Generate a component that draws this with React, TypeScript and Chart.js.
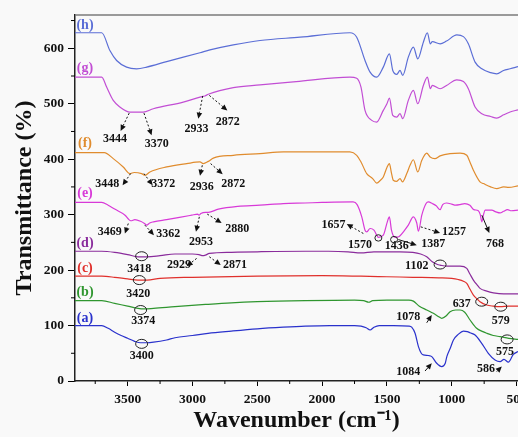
import React, { useEffect, useRef } from 'react';
import { Chart, registerables } from 'chart.js';

Chart.register(...registerables);

// ---- axis ticks ----
const xTicks = [3500, 3000, 2500, 2000, 1500, 1000, 500];
const xMinorTicks = [3750, 3250, 2750, 2250, 1750, 1250, 750];
const yTicks = [0, 100, 200, 300, 400, 500, 600];
const yMinorTicks = [50, 150, 250, 350, 450, 550, 650];

// ---- series: [wavenumber, transmittance] ----
const seriesA: [number, number][] = [
  [3906, 100], [3700, 100], [3650, 95], [3600, 88], [3550, 82], [3500, 77], [3450, 72], [3400, 69], [3350, 69],
  [3300, 70], [3200, 74], [3135, 78], [3000, 82], [2880, 86], [2700, 90], [2500, 94], [2300, 97], [2130, 99],
  [1940, 100], [1750, 100], [1700, 99], [1660, 96], [1630, 92], [1600, 97], [1560, 100], [1450, 100], [1330, 99],
  [1309, 97], [1283, 86], [1257, 62], [1235, 50], [1219, 47], [1180, 46], [1154, 44], [1116, 32], [1077, 26],
  [1050, 32], [1038, 44], [1010, 60], [987, 74], [950, 84], [910, 90], [880, 89], [859, 87], [820, 83], [769, 68],
  [718, 50], [666, 38], [627, 35], [597, 39], [563, 34], [525, 48], [489, 53],
];
const seriesB: [number, number][] = [
  [3906, 145], [3700, 145], [3600, 140], [3500, 135], [3420, 131], [3374, 130], [3300, 131], [3135, 134],
  [2900, 138], [2700, 141], [2500, 143], [2130, 145], [1750, 146], [1680, 145], [1640, 142], [1610, 145],
  [1500, 146], [1330, 146], [1296, 144], [1250, 135], [1193, 128], [1142, 122], [1100, 116], [1077, 113],
  [1040, 118], [1013, 125], [970, 128], [936, 128], [900, 124], [859, 110], [808, 95], [760, 89], [730, 86],
  [680, 82], [627, 80], [560, 77], [489, 75],
];
const seriesC: [number, number][] = [
  [3906, 189], [3700, 189], [3600, 187], [3500, 184], [3420, 182], [3350, 182], [3250, 185], [3000, 187],
  [2500, 189], [2000, 190], [1700, 189], [1500, 188], [1300, 187], [1100, 186], [1000, 185], [950, 183],
  [910, 180], [884, 176], [860, 166], [833, 155], [800, 147], [782, 143], [730, 137], [680, 135], [627, 134],
  [560, 135], [489, 135],
];
const seriesD: [number, number][] = [
  [3906, 234], [3700, 234], [3600, 232], [3500, 228], [3420, 224], [3350, 224], [3250, 226], [3135, 229],
  [3000, 229], [2950, 228], [2920, 226], [2900, 227], [2870, 230], [2700, 232], [2500, 233], [2130, 234],
  [1950, 234], [1800, 233], [1700, 231], [1600, 233], [1400, 233], [1300, 232], [1240, 229], [1193, 224],
  [1150, 215], [1110, 210], [1090, 209], [1038, 207], [936, 207], [884, 203], [860, 193], [833, 182], [800, 172],
  [782, 167], [730, 162], [679, 159], [600, 157], [489, 157],
];
const seriesE: [number, number][] = [
  [3906, 322], [3700, 322], [3650, 317], [3600, 310], [3520, 299], [3490, 291], [3475, 289], [3444, 291],
  [3400, 288], [3370, 284], [3353, 281], [3330, 285], [3300, 287], [3200, 291], [3100, 295], [3006, 299],
  [2960, 301], [2950, 299], [2935, 302], [2900, 304], [2878, 304], [2800, 310], [2650, 315], [2479, 317],
  [2300, 320], [2132, 321], [2000, 322], [1761, 323], [1730, 318], [1694, 296], [1669, 272], [1655, 269],
  [1630, 275], [1600, 272], [1566, 259], [1528, 263], [1497, 287], [1481, 296], [1465, 272], [1437, 259],
  [1410, 260], [1399, 262], [1370, 270], [1335, 281], [1296, 296], [1270, 285], [1257, 270], [1231, 299],
  [1198, 320], [1180, 323], [1150, 320], [1120, 316], [1090, 309], [1070, 318], [1040, 321], [1000, 319],
  [970, 317], [936, 318], [900, 320], [860, 317], [830, 309], [795, 307], [780, 300], [768, 287], [755, 300],
  [743, 308], [691, 308], [660, 305], [627, 303], [600, 306], [570, 309], [540, 307], [489, 308],
];
const seriesF: [number, number][] = [
  [3906, 412], [3680, 412], [3611, 401], [3534, 386], [3482, 374], [3450, 376], [3392, 374], [3366, 371],
  [3328, 377], [3199, 386], [3045, 392], [2942, 395], [2917, 392], [2878, 396], [2839, 402], [2685, 407],
  [2479, 410], [2299, 413], [1785, 413], [1733, 407], [1700, 395], [1656, 374], [1610, 365], [1579, 357],
  [1550, 362], [1528, 368], [1500, 385], [1481, 392], [1465, 375], [1451, 362], [1424, 360], [1399, 365],
  [1380, 359], [1347, 374], [1320, 390], [1296, 399], [1262, 377], [1231, 398], [1193, 411], [1167, 404],
  [1130, 401], [1090, 406], [1013, 410], [936, 411], [884, 407], [860, 395], [833, 380], [782, 359],
  [756, 356], [700, 350], [653, 347], [600, 350], [560, 349], [489, 352],
];
const seriesG: [number, number][] = [
  [3906, 548], [3700, 548], [3662, 530], [3611, 506], [3559, 494], [3482, 485], [3380, 485], [3302, 491],
  [3071, 503], [2942, 512], [2904, 514], [2878, 517], [2685, 529], [2479, 534], [2200, 540], [1785, 548],
  [1733, 546], [1700, 530], [1669, 488], [1617, 470], [1579, 467], [1528, 488], [1500, 500], [1481, 510],
  [1455, 479], [1424, 476], [1399, 482], [1378, 473], [1335, 506], [1296, 524], [1262, 500], [1219, 533],
  [1188, 548], [1165, 527], [1150, 533], [1090, 527], [1040, 533], [961, 543], [910, 540], [872, 527],
  [820, 494], [768, 482], [700, 477], [653, 474], [600, 480], [550, 485], [489, 489],
];
const seriesH: [number, number][] = [
  [3906, 628], [3700, 628], [3637, 596], [3585, 578], [3508, 566], [3431, 563], [3353, 566], [3199, 576],
  [2942, 592], [2865, 597], [2685, 606], [2479, 614], [2170, 620], [1785, 628], [1733, 620], [1669, 578],
  [1630, 557], [1579, 548], [1528, 566], [1481, 590], [1455, 560], [1424, 553], [1399, 560], [1378, 551],
  [1335, 584], [1296, 602], [1262, 581], [1219, 611], [1188, 628], [1165, 608], [1150, 612], [1090, 608],
  [1040, 613], [961, 624], [910, 621], [872, 608], [820, 575], [768, 563], [700, 556], [653, 554], [600, 560],
  [550, 563], [489, 567],
];

const seriesNames = ['(a)', '(b)', '(c)', '(d)', '(e)', '(f)', '(g)', '(h)'];
const seriesList = [seriesA, seriesB, seriesC, seriesD, seriesE, seriesF, seriesG, seriesH];
const seriesColors = ['#2a32cc', '#2f962f', '#e0302c', '#8a2c9c', '#d83ad8', '#e08c2e', '#c24ed4', '#5b6ed6'];
// name label anchors [wavenumber, value]
const seriesLabelAt: [number, number][] = [
  [3829, 113], [3829, 159], [3829, 203], [3829, 248], [3829, 339], [3829, 428], [3829, 563], [3829, 641],
];

// peak labels [text, wavenumber, value]
const peakLabels: [string, number, number][] = [
  ['3444', 3598, 437], ['3370', 3276, 428], ['2933', 2968, 455], ['2872', 2728, 467],
  ['3448', 3657, 356], ['3372', 3225, 355], ['2936', 2929, 350], ['2872', 2685, 356],
  ['3469', 3637, 269], ['3362', 3187, 266], ['2953', 2934, 251], ['2880', 2654, 275],
  ['3418', 3410, 203], ['2929', 3104, 210], ['2871', 2672, 210], ['3420', 3418, 157],
  ['3374', 3380, 109], ['3400', 3392, 45],
  ['1657', 1913, 281], ['1570', 1708, 245], ['1436', 1424, 243], ['1387', 1142, 247],
  ['1257', 982, 269], ['768', 666, 248], ['1102', 1270, 207], ['637', 923, 139],
  ['579', 622, 109], ['1078', 1335, 115], ['575', 589, 53], ['1084', 1335, 17], ['586', 735, 21],
];
// arrows [fromW, fromV, toW, toV, dashed]
const arrows: [number, number, number, number, boolean][] = [
  [3488, 483, 3554, 451, true], [3374, 483, 3315, 443, true], [2921, 514, 2955, 473, true], [2870, 515, 2731, 488, true],
  [3477, 374, 3539, 353, true], [3374, 374, 3307, 353, true], [2924, 389, 2942, 370, true], [2860, 392, 2767, 373, true],
  [3495, 284, 3521, 266, true], [3367, 281, 3297, 263, true], [2947, 296, 2973, 269, true], [2886, 301, 2775, 285, true],
  [2968, 221, 3045, 207, true], [2870, 224, 2782, 209, true],
  [1682, 266, 1810, 283, true], [1239, 278, 1090, 267, true], [1412, 255, 1270, 245, false], [768, 299, 710, 267, false],
  [1193, 105, 1154, 119, false], [1206, 18, 1154, 32, false], [653, 17, 614, 26, false],
];
// ellipses [wavenumber, value, small]
const circles: [number, number, boolean][] = [
  [3392, 225, false], [3410, 182, false], [3400, 128, false], [3392, 67, false],
  [1566, 258, true], [1445, 255, true], [1090, 210, false], [769, 143, false], [622, 134, false], [573, 75, false],
];

const FONT = "'Liberation Serif', 'Times New Roman', serif";

const decorPlugin = {
  id: 'decor',
  beforeDraw(chart: any) {
    const { ctx } = chart;
    ctx.save();
    ctx.fillStyle = '#f9f9f9';
    ctx.fillRect(0, 0, chart.width, chart.height);
    ctx.restore();
  },
  afterDraw(chart: any) {
    const { ctx, chartArea } = chart;
    const xs = chart.scales.x;
    const ys = chart.scales.y;
    ctx.save();
    // top frame
    ctx.strokeStyle = '#7a7a7a';
    ctx.lineWidth = 1.5;
    ctx.beginPath();
    ctx.moveTo(chartArea.left, chartArea.top);
    ctx.lineTo(chartArea.right, chartArea.top);
    ctx.stroke();
    // minor ticks
    ctx.strokeStyle = '#000';
    ctx.lineWidth = 1;
    ctx.beginPath();
    xMinorTicks.forEach((w) => {
      const px = xs.getPixelForValue(w);
      ctx.moveTo(px, chartArea.bottom);
      ctx.lineTo(px, chartArea.bottom + 3);
    });
    yMinorTicks.forEach((v) => {
      const py = ys.getPixelForValue(v);
      ctx.moveTo(chartArea.left, py);
      ctx.lineTo(chartArea.left - 4, py);
    });
    ctx.stroke();

    // series labels
    ctx.textAlign = 'center';
    ctx.textBaseline = 'middle';
    ctx.font = `bold 14px ${FONT}`;
    seriesNames.forEach((n, i) => {
      ctx.fillStyle = seriesColors[i];
      ctx.fillText(n, xs.getPixelForValue(seriesLabelAt[i][0]), ys.getPixelForValue(seriesLabelAt[i][1]));
    });

    // peak labels
    ctx.fillStyle = '#111';
    ctx.font = `bold 12px ${FONT}`;
    peakLabels.forEach(([t, w, v]) => {
      ctx.fillText(t, xs.getPixelForValue(w), ys.getPixelForValue(v));
    });

    // arrows
    arrows.forEach(([w1, v1, w2, v2, dashed]) => {
      const x1 = xs.getPixelForValue(w1);
      const y1 = ys.getPixelForValue(v1);
      const x2 = xs.getPixelForValue(w2);
      const y2 = ys.getPixelForValue(v2);
      const ang = Math.atan2(y2 - y1, x2 - x1);
      const hl = 6;
      const hw = 2.8;
      const bx = x2 - hl * Math.cos(ang);
      const by = y2 - hl * Math.sin(ang);
      ctx.strokeStyle = '#111';
      ctx.lineWidth = 1;
      ctx.setLineDash(dashed ? [2, 2] : []);
      ctx.beginPath();
      ctx.moveTo(x1, y1);
      ctx.lineTo(bx, by);
      ctx.stroke();
      ctx.setLineDash([]);
      ctx.fillStyle = '#111';
      ctx.beginPath();
      ctx.moveTo(x2, y2);
      ctx.lineTo(bx + hw * Math.sin(ang), by - hw * Math.cos(ang));
      ctx.lineTo(bx - hw * Math.sin(ang), by + hw * Math.cos(ang));
      ctx.closePath();
      ctx.fill();
    });

    // ellipses
    ctx.strokeStyle = '#222';
    ctx.lineWidth = 1;
    circles.forEach(([w, v, small]) => {
      ctx.beginPath();
      ctx.ellipse(xs.getPixelForValue(w), ys.getPixelForValue(v), small ? 3.5 : 6, small ? 3.2 : 4.5, 0, 0, Math.PI * 2);
      ctx.stroke();
    });
    ctx.restore();
  },
};

export default function App() {
  const ref = useRef<HTMLCanvasElement | null>(null);
  useEffect(() => {
    if (!ref.current) return;
    const chart = new Chart(ref.current, {
      type: 'line',
      data: {
        datasets: seriesList.map((s, i) => ({
          label: seriesNames[i],
          data: s.map(([x, y]) => ({ x, y })),
          borderColor: seriesColors[i],
          borderWidth: 1.2,
          pointRadius: 0,
          fill: false,
          cubicInterpolationMode: 'monotone' as const,
        })),
      },
      options: {
        responsive: false,
        maintainAspectRatio: false,
        devicePixelRatio: 1,
        animation: false,
        layout: { padding: { top: 15, right: 0, left: 0, bottom: 0 } },
        plugins: { legend: { display: false }, tooltip: { enabled: false } },
        scales: {
          x: {
            type: 'linear',
            reverse: true,
            min: 489,
            max: 3906,
            afterBuildTicks: (s: any) => {
              s.ticks = xTicks.map((v) => ({ value: v }));
            },
            afterFit: (s: any) => {
              s.height = 56;
              s.paddingLeft = 0;
              s.paddingRight = 0;
            },
            grid: { display: true, drawOnChartArea: false, drawTicks: true, tickLength: 5, color: '#000', tickWidth: 1 },
            border: { display: true, color: '#222', width: 1.5 },
            ticks: {
              color: '#111',
              font: { family: FONT, size: 13.5, weight: 'bold' },
              padding: 5,
              maxRotation: 0,
              autoSkip: false,
              callback: (v: any) => String(v),
            },
            title: {
              display: true,
              text: 'Wavenumber (cm⁻¹)',
              color: '#111',
              font: { family: FONT, size: 24, weight: 'bold' },
              padding: { top: 0, bottom: 2 },
            },
          },
          y: {
            type: 'linear',
            min: 0,
            max: 660,
            afterBuildTicks: (s: any) => {
              s.ticks = yTicks.map((v) => ({ value: v }));
            },
            afterFit: (s: any) => {
              s.width = 75;
              s.paddingTop = 0;
              s.paddingBottom = 0;
            },
            grid: { display: true, drawOnChartArea: false, drawTicks: true, tickLength: 7, color: '#000', tickWidth: 1 },
            border: { display: true, color: '#222', width: 1.5 },
            ticks: {
              color: '#111',
              font: { family: FONT, size: 13.5, weight: 'bold' },
              padding: 4,
              autoSkip: false,
              callback: (v: any) => String(v),
            },
            title: {
              display: true,
              text: 'Transmittance (%)',
              color: '#111',
              font: { family: FONT, size: 24, weight: 'bold' },
              padding: { top: 10, bottom: 0 },
            },
          },
        },
      },
      plugins: [decorPlugin],
    } as any);
    return () => chart.destroy();
  }, []);
  return (
    <div style={{ position: 'fixed', left: 0, top: 0, width: 518, height: 437 }}>
      <canvas ref={ref} width={518} height={437} style={{ width: 518, height: 437, display: 'block' }} />
    </div>
  );
}
